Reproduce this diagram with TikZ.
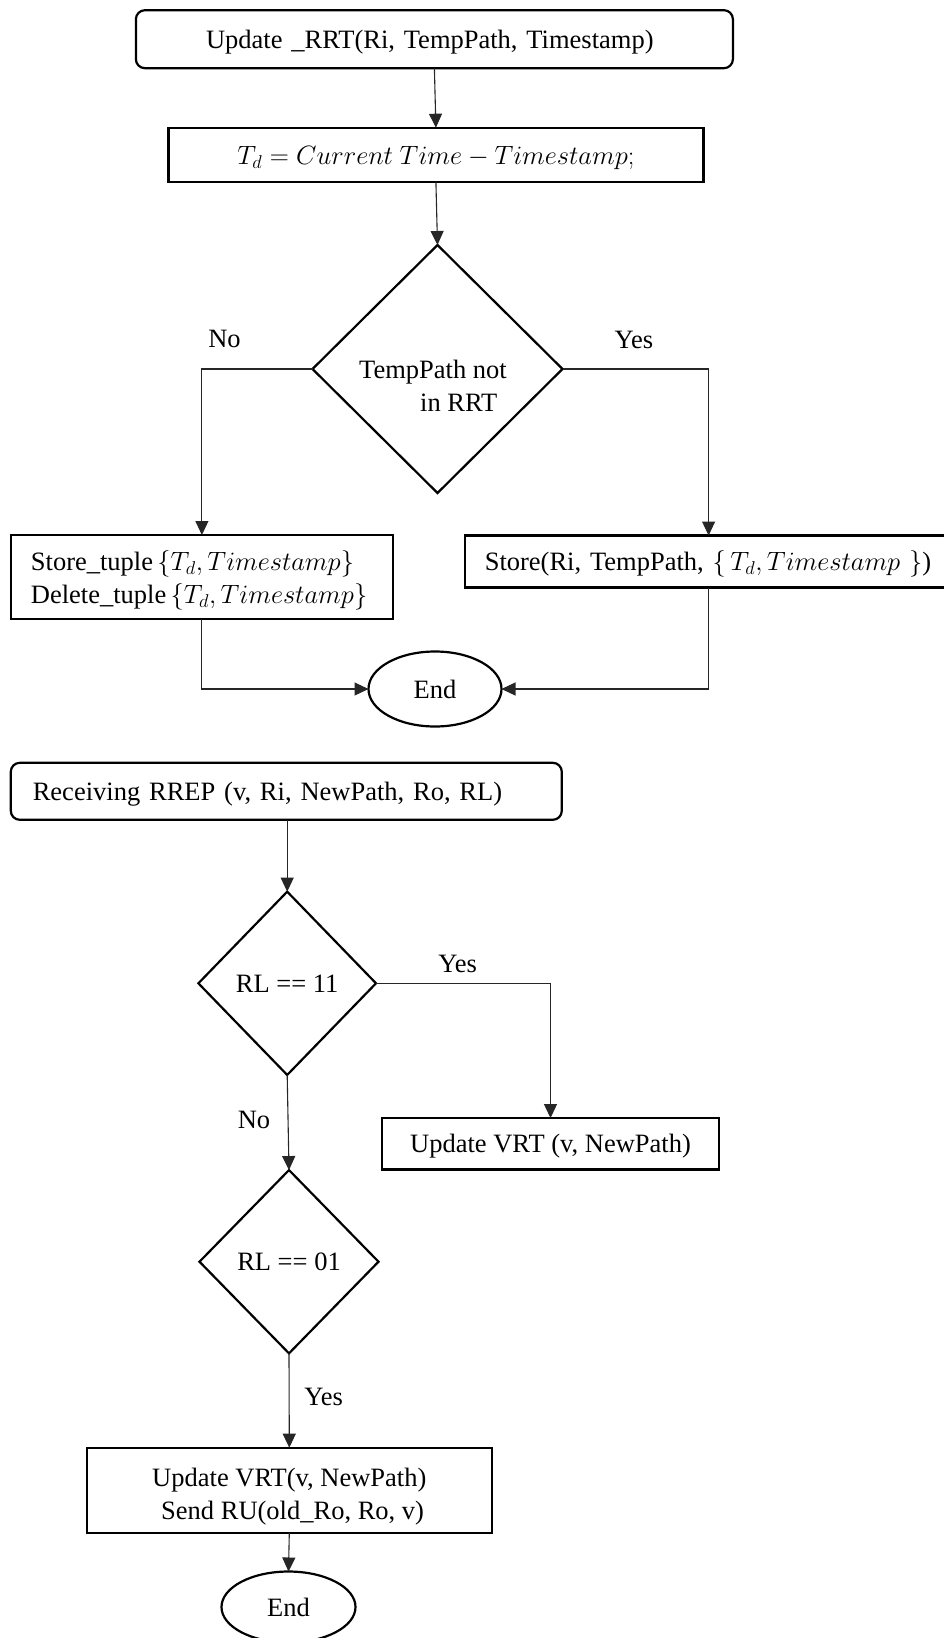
\RequirePackage{fix-cm}
\documentclass[tikz,border=0pt]{standalone}
\usepackage{fontspec}
\setmainfont{Liberation Serif}
\usetikzlibrary{shapes.geometric,arrows.meta}

\begin{document}
\begin{tikzpicture}[x=1pt,y=-1pt,
  every node/.style={font=\fontsize{26.5}{33}\selectfont, inner sep=0pt, outer sep=0pt},
  oneline/.style={text height=18pt, text depth=0pt},
  startbox/.style={draw, line width=2.2pt, rounded corners=9pt},
  procbox/.style={draw, line width=2.2pt},
  decision/.style={draw, diamond, line width=2.2pt},
  terminal/.style={draw, ellipse, line width=2.2pt},
  flow/.style={line width=1.1pt, draw=black!85, -{Triangle[length=14pt,width=13pt]}},
  branch/.style={font=\fontsize{26.5}{33}\selectfont}
]
\useasboundingbox (0,0) rectangle (944,1638);

% ---------- Update_RRT procedure ----------
\node[startbox, oneline, minimum width=597pt, minimum height=58pt, text width=456.8pt, align=left]
  (upd) at (434.4,39.2)
  {Update \_RRT(Ri, TempPath, Timestamp)};
\node[procbox, text height=20pt, text depth=0pt, minimum width=535pt, minimum height=54pt]
  (td) at (435.9,154.7)
  {$T_d = Current\ Time - Timestamp;$};
\node[decision, minimum width=250pt, minimum height=248pt] (inrrt) at (437.5,369) {};
\node[align=left] (inrrtlbl) at (433,386) {TempPath not\\\hspace{61pt}in RRT};
\node[procbox, text height=19.5pt, text depth=33.1pt, minimum width=382pt, minimum height=84pt,
  text width=342pt, align=left]
  (tuple) at (201.9,577)
  {Store\_tuple\,$\{T_d, Timestamp\}$\\Delete\_tuple\,$\{T_d, Timestamp\}$};
\node[procbox, oneline, minimum width=487.6pt, minimum height=52pt, text width=447.6pt, align=left]
  (store) at (708.6,561.5)
  {Store(Ri, TempPath, $\{\,T_d, Timestamp\ \}$)};
\node[terminal, oneline, minimum width=133pt, minimum height=75pt] (end1) at (435,689) {End};

\node[branch] (no1) at (224.5,339.4) {No};
\node[branch] (yes1) at (633.8,340.4) {Yes};

\draw[flow] (upd.south) -- (td.north);
\draw[flow] (td.south) -- (inrrt.north);
\draw[flow] (inrrt.west) -| (tuple.north);
\draw[flow] (inrrt.east) -| (store.north);
\draw[flow] (tuple.south) |- (end1.west);
\draw[flow] (store.south) |- (end1.east);

% ---------- Receiving RREP procedure ----------
\node[startbox, oneline, minimum width=551pt, minimum height=57pt, text width=507pt, align=left]
  (rrep) at (286.3,791.3)
  {Receiving RREP (v, Ri, NewPath, Ro, RL)};
\node[decision, oneline, minimum width=177.6pt, minimum height=183.3pt] (rl11) at (287.2,983.3)
  {RL == 11};
\node[procbox, oneline, minimum width=337.7pt, minimum height=51.5pt] (vrt1) at (550.5,1143.8)
  {Update VRT (v, NewPath)};
\node[decision, oneline, minimum width=179pt, minimum height=183.3pt] (rl01) at (289,1261.7)
  {RL == 01};
\node[procbox, text height=57.8pt, text depth=0pt, minimum width=405.2pt, minimum height=85pt,
  align=center]
  (vrt2) at (289.3,1490.2)
  {Update VRT(v, NewPath)\\ \ Send RU(old\_Ro, Ro, v)};
\node[terminal, oneline, minimum width=134pt, minimum height=71pt] (end2) at (288.5,1607) {End};

\node[branch] (yes2) at (457.6,964) {Yes};
\node[branch] (no2) at (254,1120) {No};
\node[branch] (yes3) at (323.6,1397) {Yes};

\draw[flow] (rrep.south -| rl11.north) -- (rl11.north);
\draw[flow] (rl11.east) -| (vrt1.north);
\draw[flow] (rl11.south) -- (rl01.north);
\draw[flow] (rl01.south) -- (vrt2.north);
\draw[flow] (vrt2.south) -- (end2.north);
\end{tikzpicture}
\end{document}
